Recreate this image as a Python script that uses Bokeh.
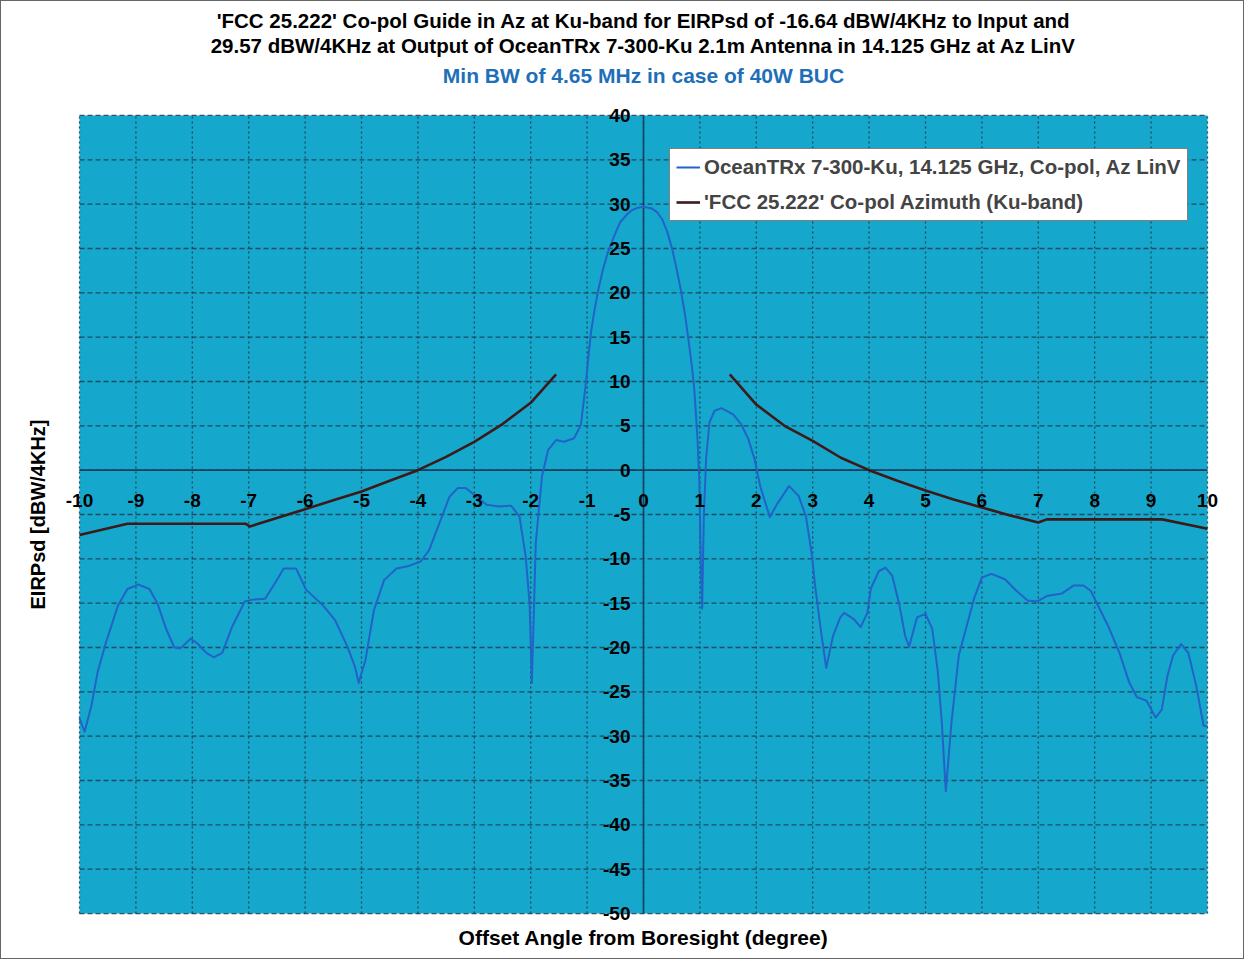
from bokeh.plotting import figure
from bokeh.models import (ColumnDataSource, LabelSet, Legend, LegendItem,
                          Title, Range1d, FixedTicker)
from bokeh.core.properties import value
from bokeh.embed import file_html
from bokeh.resources import INLINE

# ---------------- data ----------------
angle_deg = [-10.0, -9.91, -9.79, -9.68, -9.53, -9.32, -9.15, -8.96, -8.76, -8.62,
             -8.47, -8.32, -8.21, -8.03, -7.9, -7.75, -7.62, -7.47, -7.29, -7.07,
             -6.93, -6.71, -6.53, -6.38, -6.16, -5.98, -5.69, -5.47, -5.25, -5.11,
             -5.05, -4.93, -4.78, -4.6, -4.38, -4.16, -3.95, -3.8, -3.62, -3.44,
             -3.29, -3.15, -3.0, -2.78, -2.56, -2.35, -2.2, -2.09, -2.02, -1.98,
             -1.91, -1.8, -1.69, -1.55, -1.41, -1.23, -1.11, -1.02, -0.97, -0.93,
             -0.87, -0.81, -0.72, -0.63, -0.52, -0.42, -0.3, -0.21, -0.1, 0.0,
             0.08, 0.15, 0.24, 0.33, 0.42, 0.51, 0.58, 0.66, 0.74, 0.81,
             0.86, 0.9, 0.93, 0.96, 0.99, 1.02, 1.04, 1.07, 1.11, 1.17,
             1.26, 1.38, 1.59, 1.73, 1.86, 1.97, 2.07, 2.24, 2.37, 2.58,
             2.75, 2.88, 2.98, 3.05, 3.15, 3.24, 3.36, 3.49, 3.56, 3.73,
             3.85, 3.97, 4.03, 4.17, 4.29, 4.41, 4.54, 4.64, 4.71, 4.85,
             5.0, 5.12, 5.22, 5.29, 5.36, 5.46, 5.59, 5.73, 5.86, 6.0,
             6.17, 6.41, 6.61, 6.81, 6.98, 7.15, 7.42, 7.63, 7.8, 7.93,
             8.03, 8.24, 8.44, 8.61, 8.75, 8.92, 9.08, 9.19, 9.29, 9.39,
             9.53, 9.66, 9.8, 9.93, 10.0]
eirp_dbw = [-28.0, -29.5, -26.6, -22.8, -19.4, -15.3, -13.4, -12.9, -13.4, -15.0,
            -17.8, -20.0, -20.1, -19.0, -19.6, -20.6, -21.1, -20.6, -17.6, -14.8,
            -14.6, -14.5, -12.7, -11.1, -11.1, -13.5, -15.2, -16.9, -19.9, -22.3,
            -24.0, -21.4, -15.8, -12.4, -11.1, -10.8, -10.3, -9.0, -6.0, -3.0,
            -2.0, -2.0, -2.8, -3.9, -4.1, -4.0, -5.2, -9.7, -15.0, -24.0,
            -8.2, -0.7, 2.3, 3.4, 3.2, 3.6, 5.1, 9.9, 13.2, 15.6,
            18.0, 20.1, 22.6, 24.6, 26.4, 27.9, 28.8, 29.3, 29.6, 29.7,
            29.6, 29.5, 29.1, 28.3, 26.9, 24.9, 22.9, 20.4, 17.4, 14.1,
            11.6, 9.2, 6.3, 3.2, -1.3, -11.8, -15.6, -5.1, 1.3, 5.4,
            6.7, 7.0, 6.3, 5.2, 3.5, 1.2, -1.8, -5.3, -3.8, -1.8,
            -2.9, -5.2, -9.3, -13.4, -18.3, -22.3, -18.7, -16.6, -16.1, -16.8,
            -17.7, -16.1, -13.4, -11.4, -11.0, -11.9, -15.3, -18.7, -19.9, -16.6,
            -16.2, -17.9, -22.8, -28.5, -36.2, -28.5, -20.9, -17.6, -14.5, -12.1,
            -11.7, -12.3, -13.6, -14.7, -14.8, -14.2, -13.9, -13.0, -13.0, -13.6,
            -14.9, -17.6, -20.6, -23.9, -25.6, -26.0, -27.9, -27.0, -23.2, -20.9,
            -19.6, -20.6, -24.3, -28.8, -28.9]

mask_angle_left = [-10.0, -9.15, -7.05, -6.98, -6.5, -6.0, -5.5, -5.0, -4.5, -4.0,
                   -3.5, -3.0, -2.5, -2.0, -1.55]
mask_left = [-7.3, -6.05, -6.05, -6.35, -5.4, -4.4, -3.4, -2.4, -1.2, 0.0,
             1.5, 3.2, 5.2, 7.6, 10.8]
mask_angle_right = [1.53, 2.0, 2.5, 3.0, 3.5, 4.0, 4.5, 5.0, 5.5, 6.0,
                    6.5, 7.0, 7.15, 9.2, 10.0]
mask_right = [10.8, 7.4, 5.0, 3.3, 1.4, 0.0, -1.2, -2.3, -3.3, -4.2,
              -5.1, -5.9, -5.55, -5.55, -6.6]

x_tick_values = [-10, -9, -8, -7, -6, -5, -4, -3, -2, -1, 0, 1, 2, 3, 4, 5, 6, 7, 8, 9, 10]
x_tick_labels = ["-10", "-9", "-8", "-7", "-6", "-5", "-4", "-3", "-2", "-1", "0",
                 "1", "2", "3", "4", "5", "6", "7", "8", "9", "10"]
y_tick_values = [40, 35, 30, 25, 20, 15, 10, 5, 0, -5, -10, -15, -20, -25, -30, -35, -40, -45, -50]
y_tick_labels = ["40", "35", "30", "25", "20", "15", "10", "5", "0", "-5", "-10", "-15",
                 "-20", "-25", "-30", "-35", "-40", "-45", "-50"]

title_1 = "'FCC 25.222' Co-pol Guide in Az at Ku-band for EIRPsd of -16.64 dBW/4KHz to Input and"
title_2 = "29.57 dBW/4KHz at Output of OceanTRx 7-300-Ku 2.1m Antenna in 14.125 GHz at Az LinV"
title_3 = "Min BW of 4.65 MHz in case of 40W BUC"
series_1 = "OceanTRx 7-300-Ku, 14.125 GHz, Co-pol, Az LinV"
series_2 = "'FCC 25.222' Co-pol Azimuth (Ku-band)"
x_title = "Offset Angle from Boresight (degree)"
y_title = "EIRPsd [dBW/4KHz]"

# ---------------- styling ----------------
FONT = "Liberation Sans"
CYAN = "#16A8CC"
BLUE = "#2163C8"
MASK = "#3d1a1a"
GRID = "#1d3a4e"
AXIS = "#15405e"

x_lo, x_hi = min(x_tick_values), max(x_tick_values)
y_lo, y_hi = min(y_tick_values), max(y_tick_values)

# frame slightly larger than the cyan chart area so edge tick labels are not clipped
p = figure(width=1244, height=959, output_backend="svg", toolbar_location=None,
           x_range=Range1d(-10.355, 10.355), y_range=Range1d(-51.35, 41.35),
           min_border_left=58, min_border_right=18, min_border_bottom=35,
           min_border_top=102)
p.background_fill_color = "white"
p.border_fill_color = "white"
p.outline_line_color = None
p.xgrid.visible = False
p.ygrid.visible = False
p.styles = {"border": "1px solid #666666"}

# titles (first added = closest to the plot)
p.add_layout(Title(text=" ", text_font_size="1px", standoff=9), "above")
p.add_layout(Title(text=title_3, align="center", text_font=FONT, text_font_size="21px",
                   text_font_style="bold", text_color="#1E6FB8", standoff=10), "above")
p.add_layout(Title(text=title_2, align="center", text_font=FONT, text_font_size="20.5px",
                   text_font_style="bold", text_color="black", standoff=0), "above")
p.add_layout(Title(text=title_1, align="center", text_font=FONT, text_font_size="20.5px",
                   text_font_style="bold", text_color="black", standoff=0), "above")

# axes: only their titles are shown; the drawn axes cross at the origin
for ax in (p.xaxis[0], p.yaxis[0]):
    ax.ticker = FixedTicker(ticks=[])
    ax.axis_line_color = None
    ax.major_tick_line_color = None
    ax.minor_tick_line_color = None
    ax.major_label_standoff = 0
    ax.axis_label_text_font = FONT
    ax.axis_label_text_font_style = "bold"
    ax.axis_label_text_color = "black"
p.xaxis.axis_label = x_title
p.xaxis.axis_label_text_font_size = "21px"
p.xaxis.axis_label_standoff = 0
p.yaxis.axis_label = y_title
p.yaxis.axis_label_text_font_size = "20px"
p.yaxis.axis_label_standoff = 11

# cyan chart area
p.quad(left=[x_lo], right=[x_hi], bottom=[y_lo], top=[y_hi], fill_color=CYAN, line_color=None)

# grid lines
p.segment(x0=x_tick_values, y0=[y_lo] * len(x_tick_values), x1=x_tick_values,
          y1=[y_hi] * len(x_tick_values), line_color=GRID, line_dash="2 3",
          line_width=1.3, line_alpha=0.85)
p.segment(x0=[x_lo] * len(y_tick_values), y0=y_tick_values, x1=[x_hi] * len(y_tick_values),
          y1=y_tick_values, line_color=GRID, line_dash="5 3", line_width=1.3, line_alpha=0.85)

# axes crossing at the origin
p.segment(x0=[x_lo], y0=[0], x1=[x_hi], y1=[0], line_color=AXIS, line_width=1.6)
p.segment(x0=[0], y0=[y_lo], x1=[0], y1=[y_hi], line_color=AXIS, line_width=1.6)

r_blue = p.line(angle_deg, eirp_dbw, line_color=BLUE, line_width=2, line_join="round")
r_mask = p.line(mask_angle_left, mask_left, line_color=MASK, line_width=2.6, line_join="round")
p.line(mask_angle_right, mask_right, line_color=MASK, line_width=2.6, line_join="round")

xs = ColumnDataSource(dict(x=x_tick_values, y=[0] * len(x_tick_values), t=x_tick_labels))
ys = ColumnDataSource(dict(x=[0] * len(y_tick_values), y=y_tick_values, t=y_tick_labels))
p.add_layout(LabelSet(x="x", y="y", text="t", source=xs, x_offset=0, y_offset=-30,
                      text_align="center", text_baseline="middle", text_font=value(FONT),
                      text_font_size=value("19px"), text_font_style="bold", text_color="black"))
p.add_layout(LabelSet(x="x", y="y", text="t", source=ys, x_offset=-13, y_offset=0,
                      text_align="right", text_baseline="middle", text_font=value(FONT),
                      text_font_size=value("19px"), text_font_style="bold", text_color="black"))

legend = Legend(items=[LegendItem(label=series_1, renderers=[r_blue]),
                       LegendItem(label=series_2, renderers=[r_mask])],
                location=(610, 704))
legend.border_line_color = "black"
legend.border_line_width = 1.5
legend.background_fill_color = "white"
legend.background_fill_alpha = 1.0
legend.label_text_font = FONT
legend.label_text_font_size = "20.5px"
legend.label_text_font_style = "bold"
legend.glyph_width = 24
legend.glyph_height = 24
legend.label_height = 24
legend.label_standoff = 4
legend.spacing = 11
legend.padding = 6
legend.margin = 0
p.add_layout(legend)

open("out.html", "w").write(file_html(p, INLINE))
